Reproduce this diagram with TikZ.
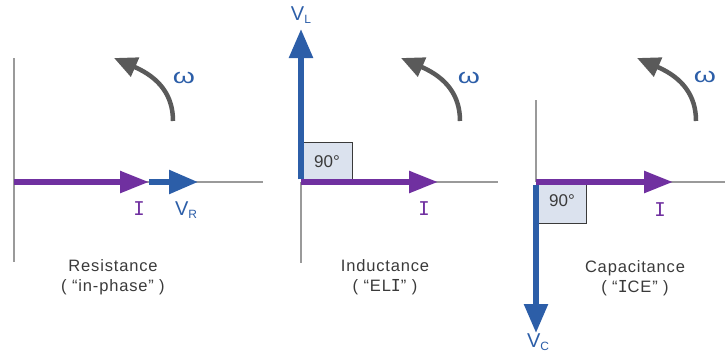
\documentclass[tikz,border=0pt]{standalone}
\usepackage{fontspec}
\setmainfont{Liberation Sans}
\newfontfamily\capfont[LetterSpace=5]{Liberation Sans}
\newfontfamily\monoI{DejaVu Sans Mono}
\usetikzlibrary{arrows.meta}
\definecolor{vpurple}{HTML}{7030A0}
\definecolor{vblue}{HTML}{2C5EA8}
\definecolor{arcgray}{HTML}{5A5A5A}
\definecolor{axisgray}{HTML}{9A9A9A}
\definecolor{txtgray}{HTML}{3A3A3A}
\definecolor{boxfill}{HTML}{DBE2EE}
\newcommand{\wideomega}{\scalebox{1.35}[1]{ω}}
\newcommand{\subtxt}[1]{\raisebox{-3pt}{\fontsize{12}{12}\selectfont #1}}
\tikzset{
  axis/.style={draw=axisgray, line width=1.5pt},
  iphasor/.style={draw=vpurple, line width=5.5pt, -{Triangle[length=29pt,width=21pt]}},
  vphasor/.style={draw=vblue, line width=5.5pt, -{Triangle[length=29pt,width=23pt]}},
  omegaarc/.style={draw=arcgray, line width=4.5pt, -{Triangle[length=23pt,width=20pt]}},
  anglebox/.style={draw=txtgray, line width=0.9pt, fill=boxfill},
  ilabel/.style={text=vpurple, font=\fontsize{19}{19}\monoI, inner sep=0pt},
  vlabel/.style={text=vblue, font=\fontsize{20}{20}\selectfont, inner sep=0pt},
  wlabel/.style={text=vblue, font=\fontsize{21}{21}\selectfont, inner sep=0pt},
  caption/.style={text=txtgray, font=\fontsize{16.5}{20}\capfont, align=center, inner sep=0pt},
  deg/.style={text=txtgray, font=\fontsize{17}{17}\selectfont, inner sep=0pt}
}
\begin{document}
\begin{tikzpicture}[x=1pt,y=-1pt]
\useasboundingbox (0,0) rectangle (725,354);
% ---------- Panel 1: Resistance ----------
\coordinate (o1) at (14,182);
\coordinate (o1top) at (14,58);
\coordinate (o1bot) at (14,262);
\coordinate (o1right) at (263,182);
\coordinate (i1) at (149,182);
\coordinate (v1) at (198,182);
\draw[axis] (o1top) -- (o1bot);
\draw[axis] (o1) -- (o1right);
\draw[vphasor] (i1) -- (v1);
\draw[iphasor] (o1) -- (i1);
\coordinate (w1s) at (173,121);
\coordinate (w1e) at (114,58);
\draw[omegaarc] (w1s) .. controls (173,96) and (160,78) .. (w1e);
\node[wlabel] (w1) at (184,78) {\wideomega};
\node[ilabel] (I1) at (139,209) {I};
\node[vlabel] (VR) at (186,210) {V\subtxt{R}};
\node[caption] (cap1) at (113,277) {Resistance\\( “in-phase” )};
% ---------- Panel 2: Inductance ----------
\coordinate (o2) at (301,182);
\coordinate (o2bot) at (301,263);
\coordinate (o2right) at (498,182);
\coordinate (i2) at (438,182);
\coordinate (v2) at (301,29);
\draw[axis] (o2) -- (o2bot);
\draw[axis] (o2) -- (o2right);
\draw[anglebox] (o2) rectangle (352,142);
\node[deg] (d2) at (327,162) {90°};
\draw[iphasor] (o2) -- (i2);
\draw[vphasor] ([yshift=2.75pt]o2) -- (v2);
\coordinate (w2s) at (460,121);
\coordinate (w2e) at (401,58);
\draw[omegaarc] (w2s) .. controls (460,96) and (447,78) .. (w2e);
\node[wlabel] (w2) at (469,78) {\wideomega};
\node[ilabel] (I2) at (424,209) {I};
\node[vlabel] (VL) at (301,15) {V\subtxt{L}};
\node[caption] (cap2) at (385,277) {Inductance\\( “EL{\monoI I}” )};
% ---------- Panel 3: Capacitance ----------
\coordinate (o3) at (536,182);
\coordinate (o3top) at (536,100);
\coordinate (o3right) at (725,182);
\coordinate (i3) at (673,182);
\coordinate (v3) at (536,333);
\draw[axis] (o3top) -- (o3);
\draw[axis] (o3) -- (o3right);
\draw[anglebox] (o3) rectangle (586,223);
\node[deg] (d3) at (562,201) {90°};
\draw[iphasor] (o3) -- (i3);
\draw[vphasor] ([yshift=-2.75pt]o3) -- (v3);
\coordinate (w3s) at (696,121);
\coordinate (w3e) at (637,58);
\draw[omegaarc] (w3s) .. controls (696,96) and (683,78) .. (w3e);
\node[wlabel] (w3) at (705,77) {\wideomega};
\node[ilabel] (I3) at (660,210) {I};
\node[vlabel] (VC) at (538,342) {V\subtxt{C}};
\node[caption] (cap3) at (635,278) {Capacitance\\( “{\monoI I}CE” )};
\end{tikzpicture}
\end{document}
